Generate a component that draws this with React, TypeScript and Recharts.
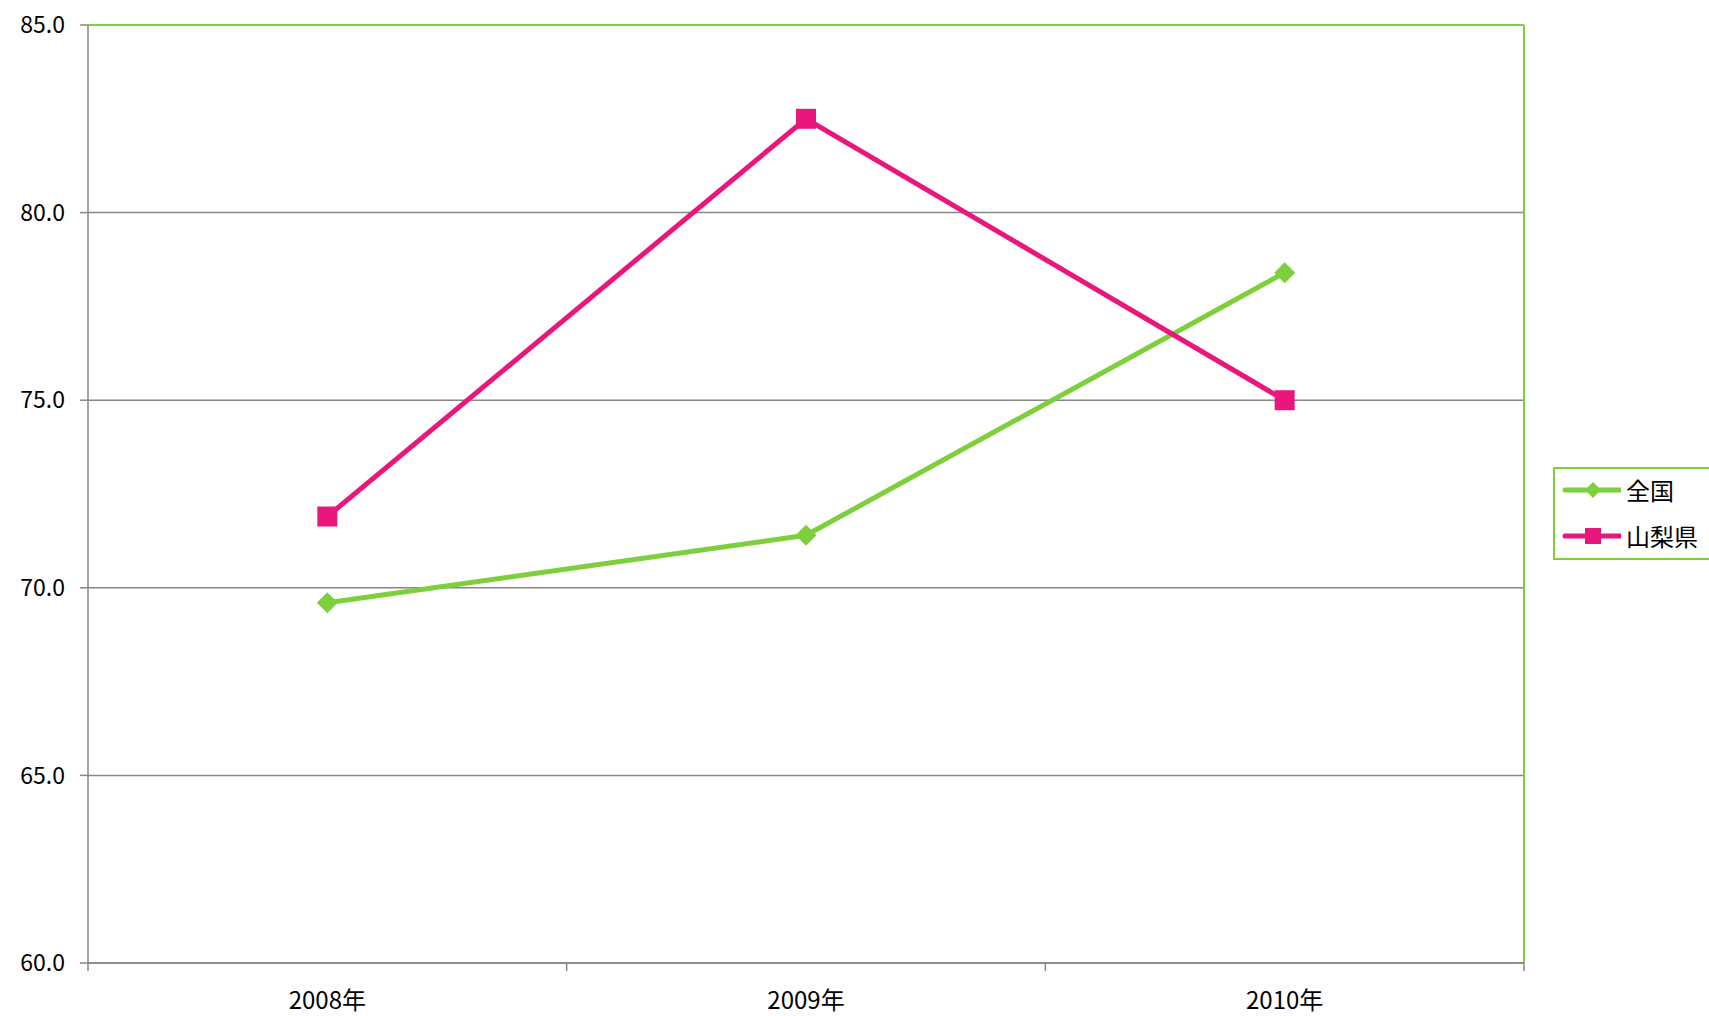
import React from 'react';
import { LineChart, Line, XAxis, YAxis, CartesianGrid, ReferenceLine } from 'recharts';

const categories = ['2008年', '2009年', '2010年'];
const seriesNames = ['全国', '山梨県'];
const zenkoku = [69.6, 71.4, 78.4];
const yamanashi = [71.9, 82.5, 75.0];
const yTicks = [60, 65, 70, 75, 80, 85];
const xTicks = [0, 0.5, 1, 1.5, 2, 2.5, 3];

const GREEN = '#7dcf3b';
const PINK = '#e9177c';
const GRAY = '#868686';
const FONT = "'Noto Sans CJK JP', sans-serif";
const CJK = "'Noto Sans CJK JP', sans-serif";

const data = categories.map((c, i) => ({ x: i + 0.5, name: c, zenkoku: zenkoku[i], yamanashi: yamanashi[i] }));

const XTick = (props: any) => {
  const { x, y, payload } = props;
  const v = payload.value;
  if (Number.isInteger(v)) {
    return <line x1={x} x2={x} y1={y} y2={y + 8} stroke={GRAY} strokeWidth={1.5} />;
  }
  const idx = Math.floor(v);
  return (
    <text x={x} y={y + 35} textAnchor="middle" dominantBaseline="central" fontSize={24} fill="#000" fontFamily={FONT}>
      {categories[idx]}
    </text>
  );
};

const Square = (props: any) => {
  const { cx, cy } = props;
  if (cx == null || cy == null) return null;
  return <rect x={cx - 10} y={cy - 10} width={20} height={20} fill={PINK} />;
};

const Diamond = (props: any) => {
  const { cx, cy } = props;
  if (cx == null || cy == null) return null;
  const r = 10.5;
  return <polygon points={`${cx},${cy - r} ${cx + r},${cy} ${cx},${cy + r} ${cx - r},${cy}`} fill={GREEN} />;
};

const LegendRow = ({ color, name, shape }: { color: string; name: string; shape: 'diamond' | 'square' }) => (
  <div style={{ display: 'flex', alignItems: 'center', height: 46 }}>
    <svg width={66} height={30} style={{ display: 'block' }}>
      <line x1={10} x2={66} y1={15} y2={15} stroke={color} strokeWidth={5} strokeLinecap="round" />
      {shape === 'diamond' ? (
        <polygon points="38,7 46,15 38,23 30,15" fill={color} />
      ) : (
        <rect x={30} y={7} width={16} height={16} fill={color} />
      )}
    </svg>
    <span style={{ marginLeft: 5, fontFamily: CJK, fontSize: 24, color: '#000', lineHeight: '30px' }}>{name}</span>
  </div>
);

export default function App() {
  return (
    <div style={{ position: 'fixed', left: 0, top: 0, width: 1709, height: 1016, background: '#fff', overflow: 'hidden' }}>
      <LineChart width={1709} height={1016} data={data} margin={{ top: 25, right: 185, bottom: 13, left: 0 }}>
        <CartesianGrid horizontal vertical={false} stroke={GRAY} strokeWidth={1.5} />
        <XAxis
          dataKey="x"
          type="number"
          domain={[0, 3]}
          ticks={xTicks}
          interval={0}
          tick={<XTick />}
          tickLine={false}
          tickSize={0}
          tickMargin={0}
          height={40}
          axisLine={{ stroke: GRAY, strokeWidth: 1.5 }}
        />
        <YAxis
          type="number"
          domain={[60, 85]}
          ticks={yTicks}
          interval={0}
          width={88}
          tickSize={8}
          tickMargin={15}
          tickFormatter={(v: number) => v.toFixed(1)}
          tick={{ fontSize: 23, fill: '#000', fontFamily: FONT }}
          tickLine={{ stroke: GRAY, strokeWidth: 1.5 }}
          axisLine={{ stroke: GRAY, strokeWidth: 1.5 }}
        />
        <ReferenceLine y={85} stroke={GREEN} strokeWidth={2} />
        <ReferenceLine x={3} stroke={GREEN} strokeWidth={2} />
        <Line
          dataKey="zenkoku"
          name={seriesNames[0]}
          stroke={GREEN}
          strokeWidth={5}
          dot={<Diamond />}
          activeDot={false}
          isAnimationActive={false}
        />
        <Line
          dataKey="yamanashi"
          name={seriesNames[1]}
          stroke={PINK}
          strokeWidth={5}
          dot={<Square />}
          activeDot={false}
          isAnimationActive={false}
        />
      </LineChart>
      <div
        style={{
          position: 'absolute',
          left: 1553,
          top: 467,
          width: 170,
          height: 93,
          boxSizing: 'border-box',
          border: `2px solid ${GREEN}`,
        }}
      >
        <div style={{ marginTop: -2 }}>
          <LegendRow color={GREEN} name={seriesNames[0]} shape="diamond" />
          <LegendRow color={PINK} name={seriesNames[1]} shape="square" />
        </div>
      </div>
    </div>
  );
}
